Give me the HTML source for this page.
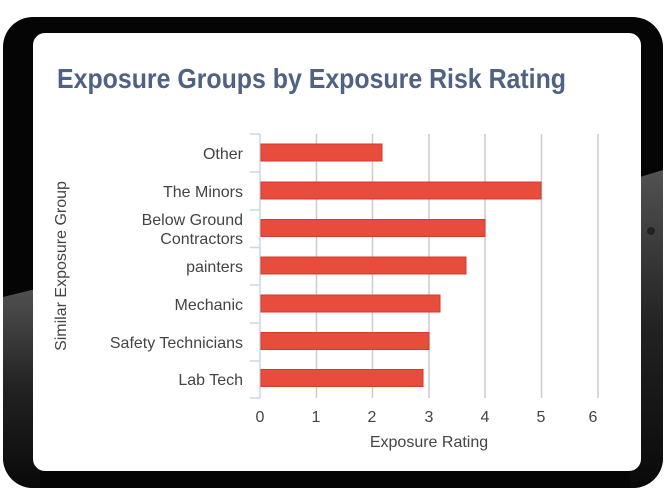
<!DOCTYPE html>
<html><head><meta charset="utf-8"><style>
html,body{margin:0;padding:0;background:#fff;width:664px;height:498px;overflow:hidden}
</style></head><body>
<svg width="664" height="498" xmlns="http://www.w3.org/2000/svg" font-family="Liberation Sans, sans-serif">
<defs>
<linearGradient id="gr" x1="0" y1="0" x2="0" y2="1">
<stop offset="0" stop-color="#5a5a5a"/><stop offset="0.5" stop-color="#252525"/><stop offset="1" stop-color="#0a0a0a"/>
</linearGradient>
<clipPath id="fc"><rect x="3" y="17" width="660" height="471" rx="30"/></clipPath>
</defs>
<rect x="3" y="17" width="660" height="471" rx="30" fill="#050505"/>
<g clip-path="url(#fc)">
<polygon points="3,297 40,288 40,488 3,488" fill="url(#gr)" opacity="0.9"/>
<polygon points="630,180 663,170 663,488 630,488" fill="url(#gr)" opacity="0.9"/>
</g>
<circle cx="651" cy="231" r="4" fill="#222"/>
<rect x="33" y="33" width="608" height="438" rx="12" fill="#fff"/>
<text x="57" y="88" font-size="28" font-weight="bold" fill="#4f6283" textLength="509" lengthAdjust="spacingAndGlyphs">Exposure Groups by Exposure Risk Rating</text>
<g stroke="#cccccc" stroke-width="1.5">
<line x1="316.5" y1="134" x2="316.5" y2="398"/>
<line x1="372.5" y1="134" x2="372.5" y2="398"/>
<line x1="429" y1="134" x2="429" y2="398"/>
<line x1="485" y1="134" x2="485" y2="398"/>
<line x1="541.5" y1="134" x2="541.5" y2="398"/>
<line x1="598" y1="134" x2="598" y2="398"/>
</g>
<g stroke="#c8d6e8" stroke-width="1.5">
<line x1="260" y1="134" x2="260" y2="398"/>
<line x1="250" y1="134" x2="260" y2="134"/>
<line x1="250" y1="172" x2="260" y2="172"/>
<line x1="250" y1="210" x2="260" y2="210"/>
<line x1="250" y1="247.5" x2="260" y2="247.5"/>
<line x1="250" y1="285" x2="260" y2="285"/>
<line x1="250" y1="323" x2="260" y2="323"/>
<line x1="250" y1="361" x2="260" y2="361"/>
<line x1="250" y1="398" x2="260" y2="398"/>
</g>
<g fill="#e74c3c" stroke="#d93a2b" stroke-width="1">
<rect x="261" y="144" width="121" height="17"/>
<rect x="261" y="182" width="280" height="17"/>
<rect x="261" y="219.5" width="224" height="17"/>
<rect x="261" y="257" width="205" height="17"/>
<rect x="261" y="295" width="179" height="17"/>
<rect x="261" y="332.5" width="168" height="17"/>
<rect x="261" y="369.5" width="162" height="17"/>
</g>
<g font-size="16" fill="#444" text-anchor="end">
<text x="243" y="159">Other</text>
<text x="243" y="197">The Minors</text>
<text x="243" y="225">Below Ground</text>
<text x="243" y="244">Contractors</text>
<text x="243" y="272">painters</text>
<text x="243" y="310">Mechanic</text>
<text x="243" y="348">Safety Technicians</text>
<text x="243" y="385">Lab Tech</text>
</g>
<g font-size="16" fill="#444" text-anchor="middle">
<text x="260" y="422">0</text>
<text x="316" y="422">1</text>
<text x="372" y="422">2</text>
<text x="429" y="422">3</text>
<text x="485" y="422">4</text>
<text x="541" y="422">5</text>
<text x="593" y="422">6</text>
<text x="429" y="447">Exposure Rating</text>
<text transform="translate(66,266) rotate(-90)">Similar Exposure Group</text>
</g>
</svg>
</body></html>
